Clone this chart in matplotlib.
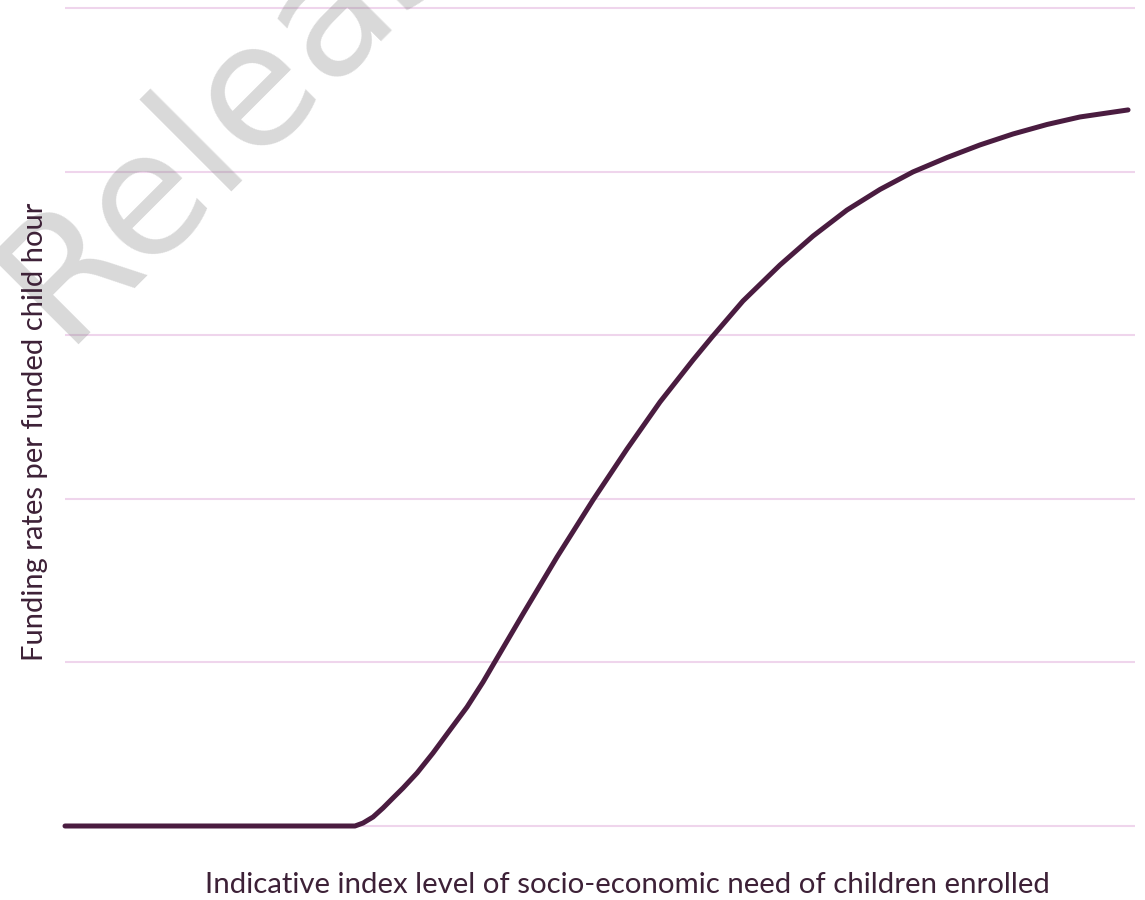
import matplotlib
matplotlib.use("Agg")
import matplotlib.pyplot as plt

# Data (index level 0-100, funding rate in grid units)
index_level = [0, 27.10, 27.85, 28.79, 29.72, 30.65, 31.59, 32.90, 34.39, 35.98,
               37.57, 39.07, 40.00, 42.80, 45.98, 49.35, 52.52, 55.61, 58.69,
               60.47, 63.36, 66.82, 69.91, 73.08, 76.17, 79.25, 82.43, 85.51,
               88.60, 91.78, 94.86, 99.35]
funding_rate = [0, 0, 0.018, 0.055, 0.110, 0.171, 0.232, 0.324, 0.446, 0.587,
                0.727, 0.880, 0.984, 1.296, 1.644, 1.993, 2.304, 2.592, 2.848,
                2.989, 3.209, 3.429, 3.606, 3.765, 3.891, 3.998, 4.086, 4.163,
                4.230, 4.288, 4.334, 4.377]
grid_levels = [0, 1, 2, 3, 4, 5]

x_label = "Indicative index level of socio-economic need of children enrolled"
y_label = "Funding rates per funded child hour"
watermark = "Released"

W, H = 1145, 900
fig = plt.figure(figsize=(W / 100, H / 100), dpi=100)
unit = 163.6
top_px = 8 - 0.05 * unit
bot_px = 826 + 0.05 * unit
ax = fig.add_axes([65 / W, (H - bot_px) / H, 1070 / W, (bot_px - top_px) / H])
ax.set_xlim(0, 100)
ax.set_ylim(-0.05, 5.05)

for g in grid_levels:
    ax.axhline(g, color="#EFD5EC", linewidth=1.5, zorder=1)

ax.plot(index_level, funding_rate, color="#4A1C40", linewidth=3.6,
        solid_capstyle="round", solid_joinstyle="round", zorder=3, clip_on=False)

for s in ax.spines.values():
    s.set_visible(False)
ax.set_xticks([])
ax.set_yticks([])

fig.text(62 / W, 1 - 345 / H, watermark, ha="left", va="baseline", rotation=45,
         rotation_mode="anchor", fontsize=124, color="#808080", alpha=0.3,
         family=["DejaVu Sans"], zorder=2)

txt_color = "#3D2137"
fig.text(627 / W, 1 - 885 / H, x_label, ha="center", va="center",
         fontsize=21.2, color=txt_color, family=["Lato", "DejaVu Sans"], zorder=3)
fig.text(35 / W, 1 - 432 / H, y_label, ha="center", va="center", rotation=90,
         fontsize=21, color=txt_color, family=["Lato", "DejaVu Sans"], zorder=3)

fig.savefig("out.png", dpi=100)
